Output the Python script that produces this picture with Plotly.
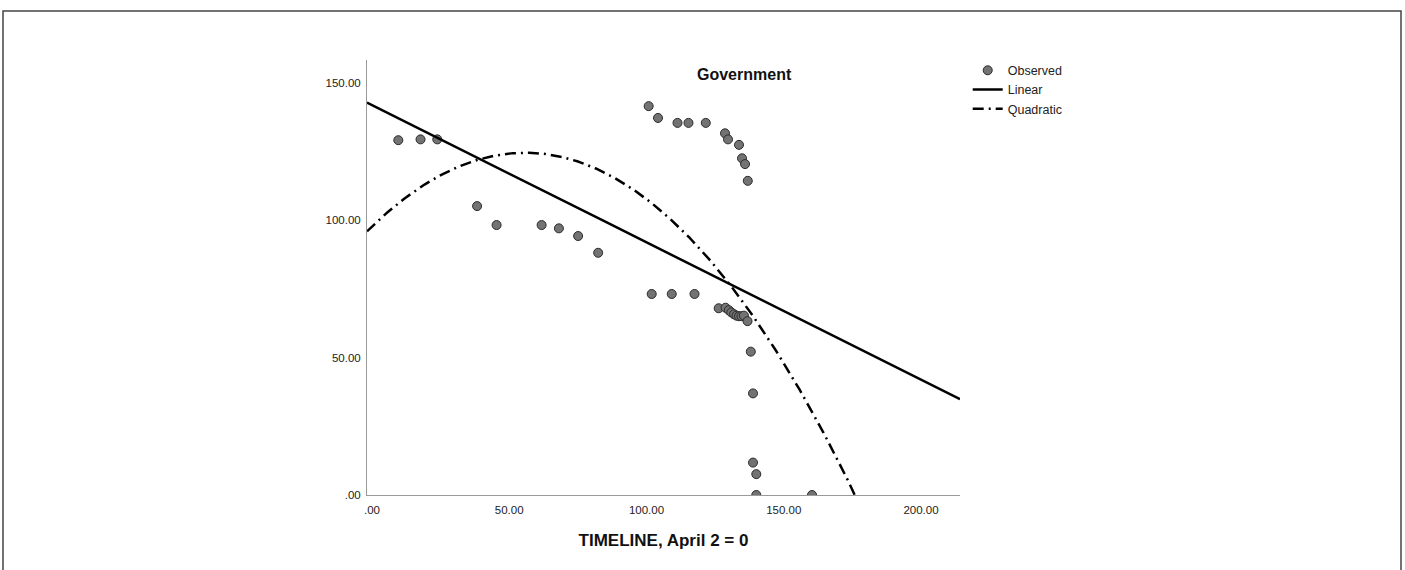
import plotly.graph_objects as go
import numpy as np

# Observed data (TIMELINE, Government)
obs_x = [9.6, 17.7, 23.8, 38.3, 45.4, 61.8, 68.1, 75.1, 82.4,
         100.8, 104.2, 111.3, 115.3, 121.6, 128.6, 129.7, 133.7, 134.8, 135.9, 136.9,
         101.9, 109.2, 117.5,
         126.3, 128.8, 130.0, 130.9, 131.9, 132.8, 133.7, 134.6, 135.5, 136.8,
         138.0, 138.8, 138.8, 140.0, 140.0, 160.3]
obs_y = [129.2, 129.5, 129.5, 105.2, 98.3, 98.3, 97.1, 94.3, 88.2,
         141.6, 137.3, 135.5, 135.5, 135.5, 131.7, 129.5, 127.5, 122.6, 120.5, 114.4,
         73.2, 73.2, 73.2,
         68.0, 68.2, 67.3, 66.5, 65.8, 65.3, 65.1, 65.1, 65.3, 63.3,
         52.2, 37.0, 11.8, 7.6, 0.0, 0.0]

# Fitted model coefficients (intercept, slope, quadratic term)
linear_coef = [142.0, -0.500]
quad_coef = [97.76, 0.963, -0.00863]

x_ticks = [0, 50, 100, 150, 200]
x_tick_text = [".00", "50.00", "100.00", "150.00", "200.00"]
y_ticks = [0, 50, 100, 150]
y_tick_text = [".00", "50.00", "100.00", "150.00"]

X_RANGE = [-1.8, 214.2]
Y_RANGE = [0, 158.4]

fx = np.linspace(X_RANGE[0], X_RANGE[1], 400)
lin_y = linear_coef[0] + linear_coef[1] * fx
quad_y = quad_coef[0] + quad_coef[1] * fx + quad_coef[2] * fx ** 2

fig = go.Figure()
fig.add_trace(go.Scatter(
    x=obs_x, y=obs_y, mode="markers", name="Observed",
    marker=dict(size=9, color="#737373", line=dict(color="#2a2a2a", width=1)),
))
fig.add_trace(go.Scatter(
    x=fx, y=lin_y, mode="lines", name="Linear",
    line=dict(color="black", width=2.5),
))
fig.add_trace(go.Scatter(
    x=fx, y=quad_y, mode="lines", name="Quadratic",
    line=dict(color="black", width=2.5, dash="11px,5px,2px,5px"),
))

L, R, T, B = 367, 445, 60, 75
W, H = 1405, 570
pw, ph = W - L - R, H - T - B

fig.update_layout(
    width=W, height=H,
    margin=dict(l=L, r=R, t=T, b=B, pad=0),
    paper_bgcolor="white", plot_bgcolor="white",
    font=dict(family="Liberation Sans, Arial, sans-serif", size=11, color="#222"),
    showlegend=True,
    legend=dict(x=1.013, y=1.01, xanchor="left", yanchor="top",
                font=dict(size=12.5, color="#222"), tracegroupgap=0,
                itemwidth=30, bgcolor="rgba(0,0,0,0)", borderwidth=0),
    xaxis=dict(range=X_RANGE, tickvals=x_ticks, ticktext=x_tick_text,
               showgrid=False, zeroline=False, showline=True, linecolor="#9a9a9a",
               linewidth=1, ticks="", tickfont=dict(size=11.5, color="#222"),
               ticklabelstandoff=4,
               title=dict(text="<b>TIMELINE, April 2 = 0</b>", font=dict(size=17, color="#111"),
                          standoff=19)),
    yaxis=dict(range=Y_RANGE, tickvals=y_ticks, ticktext=y_tick_text,
               showgrid=False, zeroline=False, showline=True, linecolor="#9a9a9a",
               linewidth=1, ticks="", tickfont=dict(size=11.5, color="#222"),
               ticklabelstandoff=3),
    annotations=[dict(text="<b>Government</b>", x=(744 - L) / pw, y=(H - B - 75) / ph,
                      xref="paper", yref="paper", showarrow=False,
                      xanchor="center", yanchor="middle",
                      font=dict(size=16, color="#111"))],
    shapes=[dict(type="rect", xref="paper", yref="paper",
                 x0=(3 - L) / pw, x1=(1401 - L) / pw,
                 y0=(H - B - 580) / ph, y1=(H - B - 11) / ph,
                 line=dict(color="#444", width=1.5), fillcolor="rgba(0,0,0,0)", layer="below")],
)

fig.write_html("out.html")
